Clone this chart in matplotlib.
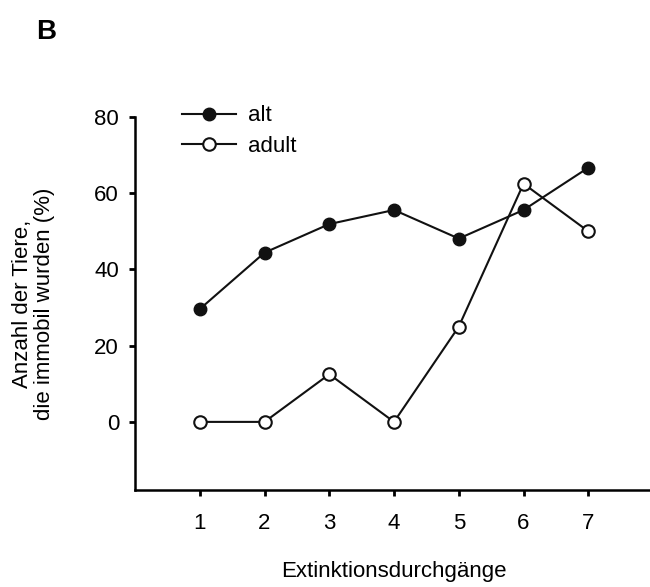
import matplotlib.pyplot as plt

# ---- DATA ---- #
durchgaenge = [1, 2, 3, 4, 5, 6, 7]
alt = [29.6, 44.4, 51.9, 55.6, 48.1, 55.6, 66.7]
adult = [0.0, 0.0, 12.5, 0.0, 25.0, 62.5, 50.0]
y_ticks = [0, 20, 40, 60, 80]

plt.rcParams['font.family'] = ['Liberation Sans', 'DejaVu Sans']

fig = plt.figure(figsize=(6.5, 5.87), dpi=100)
# axis runs slightly past the right edge, as in the original
ax = fig.add_axes([0.2077, 0.1644, 0.797, 0.6363])

ax.plot(durchgaenge, alt, color='#111111', lw=1.5, marker='o', ms=9,
        mfc='#111111', mec='#111111', label='alt', zorder=3)
ax.plot(durchgaenge, adult, color='#111111', lw=1.5, marker='o', ms=9,
        mfc='white', mec='#111111', mew=1.5, label='adult', zorder=3)

ax.set_xlim(0, 8)
ax.set_ylim(-18, 80)
ax.set_xticks(durchgaenge)
ax.set_yticks(y_ticks)
ax.tick_params(labelsize=16, width=2, direction='out')
ax.tick_params(axis='x', length=4, pad=12)
ax.tick_params(axis='y', length=4.5, pad=7)
for s in ['top', 'right']:
    ax.spines[s].set_visible(False)
for s in ['left', 'bottom']:
    ax.spines[s].set_linewidth(1.8)

ax.set_xlabel('Extinktionsdurchgänge', fontsize=16, labelpad=20)
ax.set_ylabel('Anzahl der Tiere,\ndie immobil wurden (%)', fontsize=16,
              labelpad=28, linespacing=1.1)

ax.legend(loc='center left', bbox_to_anchor=(0.09, 0.9625), frameon=False,
          fontsize=16, handlelength=2.43, handletextpad=0.55,
          labelspacing=0.42, borderpad=0, borderaxespad=0)

fig.text(36 / 650, 1 - 39 / 587, 'B', fontsize=20, fontweight='bold',
         va='baseline')

plt.savefig('out.png', dpi=100)
plt.close()
